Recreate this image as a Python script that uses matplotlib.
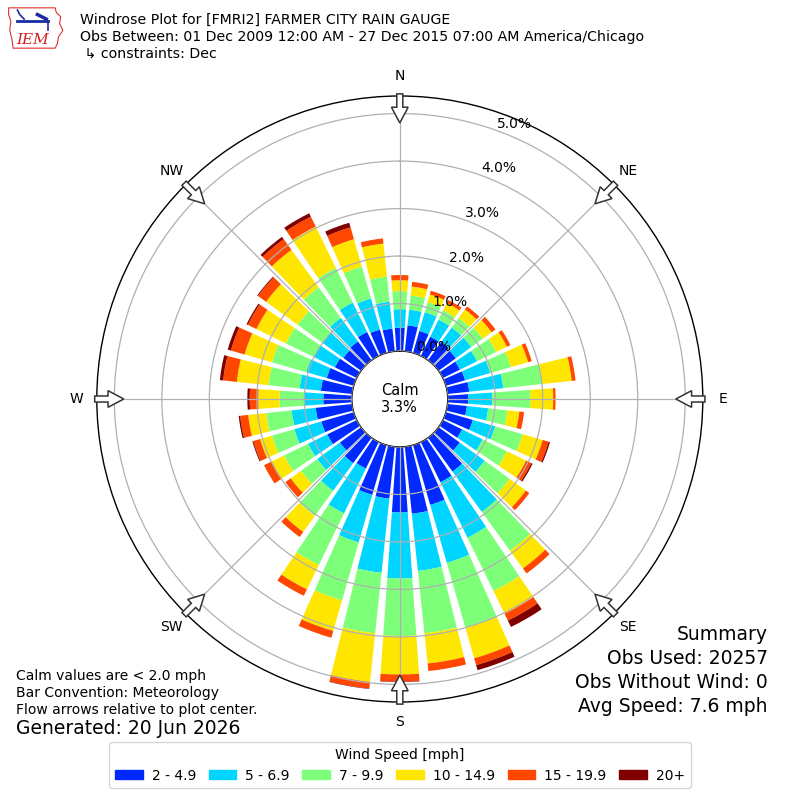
import numpy as np
import matplotlib
matplotlib.use("Agg")
import matplotlib.pyplot as plt
from matplotlib.patches import FancyArrow, Patch, Polygon

# direction of each bar, degrees from north (wind coming from)
directions = np.arange(0, 360, 10)

# percent of obs in each speed bin, one value per direction (0, 10, ... 350)
spd_2_5 = [0.49, 0.55, 0.48, 0.45, 0.48, 0.45, 0.40, 0.42, 0.46, 0.43,
           0.41, 0.59, 0.45, 0.55, 0.88, 0.94, 1.31, 1.42, 1.38, 1.10,
           1.09, 0.62, 0.66, 0.55, 0.69, 0.71, 0.77, 0.60, 0.66, 0.59,
           0.51, 0.46, 0.49, 0.56, 0.51, 0.48]
spd_5_7 = [0.39, 0.33, 0.41, 0.40, 0.37, 0.40, 0.40, 0.55, 0.72, 0.51,
           0.45, 0.49, 0.48, 0.65, 1.05, 1.30, 1.27, 1.21, 1.39, 1.57,
           1.04, 1.05, 0.72, 0.59, 0.45, 0.59, 0.51, 0.39, 0.45, 0.45,
           0.49, 0.54, 0.61, 0.69, 0.68, 0.57]
spd_7_10 = [0.38, 0.30, 0.22, 0.22, 0.25, 0.30, 0.45, 0.45, 0.83, 0.80,
            0.41, 0.60, 0.57, 0.65, 1.01, 1.25, 1.42, 1.32, 1.21, 1.28,
            1.27, 1.21, 0.65, 0.42, 0.56, 0.49, 0.54, 0.53, 0.66, 0.75,
            0.66, 0.65, 0.80, 0.81, 0.70, 0.53]
spd_10_15 = [0.23, 0.19, 0.17, 0.17, 0.22, 0.23, 0.25, 0.38, 0.62, 0.48,
             0.25, 0.44, 0.45, 0.42, 0.46, 0.53, 0.67, 0.64, 0.81, 1.03,
             0.67, 0.57, 0.42, 0.27, 0.29, 0.26, 0.38, 0.45, 0.67, 0.60,
             0.69, 0.82, 0.97, 0.97, 0.60, 0.70]
spd_15_20 = [0.11, 0.10, 0.08, 0.07, 0.08, 0.10, 0.08, 0.08, 0.08, 0.05,
             0.10, 0.13, 0.12, 0.09, 0.13, 0.16, 0.15, 0.16, 0.15, 0.14,
             0.15, 0.15, 0.13, 0.14, 0.18, 0.15, 0.17, 0.18, 0.29, 0.30,
             0.20, 0.21, 0.28, 0.23, 0.26, 0.11]
spd_20 = [0.00, 0.00, 0.00, 0.00, 0.00, 0.00, 0.00, 0.00, 0.00, 0.00,
          0.00, 0.03, 0.03, 0.00, 0.00, 0.15, 0.11, 0.00, 0.01, 0.01,
          0.00, 0.00, 0.00, 0.00, 0.00, 0.02, 0.03, 0.05, 0.07, 0.07,
          0.03, 0.02, 0.06, 0.08, 0.10, 0.00]

bins = [spd_2_5, spd_5_7, spd_7_10, spd_10_15, spd_15_20, spd_20]
bin_labels = ["2 - 4.9", "5 - 6.9", "7 - 9.9", "10 - 14.9", "15 - 19.9", "20+"]
rticks = [0, 1, 2, 3, 4, 5]
compass = ["N", "NE", "E", "SE", "S", "SW", "W", "NW"]
calm_pct = 3.3

colors = plt.cm.jet(np.arange(1, 7) / 6.0)

fig = plt.figure(figsize=(8, 8), dpi=100)
ax = fig.add_axes([0.121, 0.1225, 0.7575, 0.7575], projection="polar")
ax.set_theta_zero_location("N")
ax.set_theta_direction(-1)

theta = np.deg2rad(directions)
width = np.deg2rad(8)
bottom = np.zeros(len(directions))
for vals, c, lab in zip(bins, colors, bin_labels):
    vals = np.array(vals)
    ax.bar(theta, vals, width=width, bottom=bottom, color=c, label=lab,
           linewidth=0, zorder=1)
    bottom = bottom + vals

ax.set_ylim(0, 5.37)
ax.set_rorigin(-1.01)
ax.set_axisbelow(False)
ax.grid(True, color="#b0b0b0", lw=0.9, zorder=3)
ax.set_xticks(np.deg2rad(np.arange(0, 360, 45)))
ax.set_xticklabels([])
ax.set_yticks(rticks)
ax.set_yticklabels(["%.1f%%" % t for t in rticks], fontsize=10)
ax.set_rlabel_position(20)
for sp in ax.spines.values():
    sp.set_color("black")
    sp.set_linewidth(1)

ax.text(0.5, 0.5, "Calm\n%.1f%%" % calm_pct, transform=ax.transAxes,
        ha="center", va="center", fontsize=10.5)

# compass labels just outside the ring
for i, name in enumerate(compass):
    a = np.deg2rad(i * 45)
    ax.text(0.5 + 0.533 * np.sin(a), 0.5 + 0.533 * np.cos(a), name,
            transform=ax.transAxes, ha="center", va="center", fontsize=10)

# flow arrows on the outer ring, pointing at the center
cx, cy = 0.5, 0.5
for i in range(8):
    a = np.deg2rad(i * 45)
    r0 = 0.5035
    L = 0.048
    arr = FancyArrow(cx + r0 * np.sin(a), cy + r0 * np.cos(a),
                     -L * np.sin(a), -L * np.cos(a), width=0.01,
                     head_width=0.0275, head_length=0.026,
                     length_includes_head=True, transform=ax.transAxes,
                     fc="white", ec="#333333", lw=1.1, zorder=5,
                     clip_on=False)
    ax.add_artist(arr)

# header
fig.text(0.1, 1 - 20 / 800, "Windrose Plot for [FMRI2] FARMER CITY RAIN GAUGE",
         fontsize=10.2, va="center")
fig.text(0.1, 1 - 37 / 800,
         "Obs Between: 01 Dec 2009 12:00 AM - 27 Dec 2015 07:00 AM America/Chicago",
         fontsize=10.2, va="center")
fig.text(0.1, 1 - 54 / 800, " \u21b3 constraints: Dec", fontsize=10.2, va="center")

# IEM logo (rough)
lax = fig.add_axes([0.008, 0.937, 0.072, 0.056])
lax.set_xlim(0, 52)
lax.set_ylim(0, 40)
lax.axis("off")
state = [(2, 38), (44, 38), (45, 34), (49, 30), (48, 24), (51, 18), (47, 12),
         (46, 6), (44, 2), (6, 2), (5, 10), (3, 18), (4, 26), (2, 32)]
lax.add_patch(Polygon(state, closed=True, fill=False, ec="#e03030", lw=0.8))
lax.plot([10, 38], [26, 26], color="#1a2aa0", lw=2)
lax.plot([10, 12, 16], [36, 32, 28], color="#1a2aa0", lw=1.2)
lax.plot([28, 36], [32, 28], color="#1a2aa0", lw=2.5)
lax.plot([38, 38], [26, 18], color="#1a2aa0", lw=1.2)
lax.text(24, 9, "IEM", color="#d02020", fontsize=11, family="serif",
         style="italic", ha="center", va="center")

# footer text
fig.text(0.02, 1 - 676 / 800, "Calm values are < 2.0 mph", fontsize=10, va="center")
fig.text(0.02, 1 - 693 / 800, "Bar Convention: Meteorology", fontsize=10, va="center")
fig.text(0.02, 1 - 710 / 800, "Flow arrows relative to plot center.", fontsize=10,
         va="center")
fig.text(0.02, 1 - 729 / 800, "Generated: 20 Jun 2026", fontsize=13.5, va="center")

summary = ["Summary", "Obs Used: 20257", "Obs Without Wind: 0", "Avg Speed: 7.6 mph"]
for k, line in enumerate(summary):
    fig.text(0.96, 1 - (635 + 23.7 * k) / 800, line, fontsize=13.5,
             ha="right", va="center")

handles = [Patch(color=c) for c in colors]
leg = fig.legend(handles, bin_labels, ncol=6, loc="lower center",
                 bbox_to_anchor=(0.5, 0.006), title="Wind Speed [mph]",
                 fontsize=10, title_fontsize=10, handlelength=2.0,
                 handleheight=0.65, handletextpad=0.65, columnspacing=0.9)

fig.savefig("out.png", dpi=100)
